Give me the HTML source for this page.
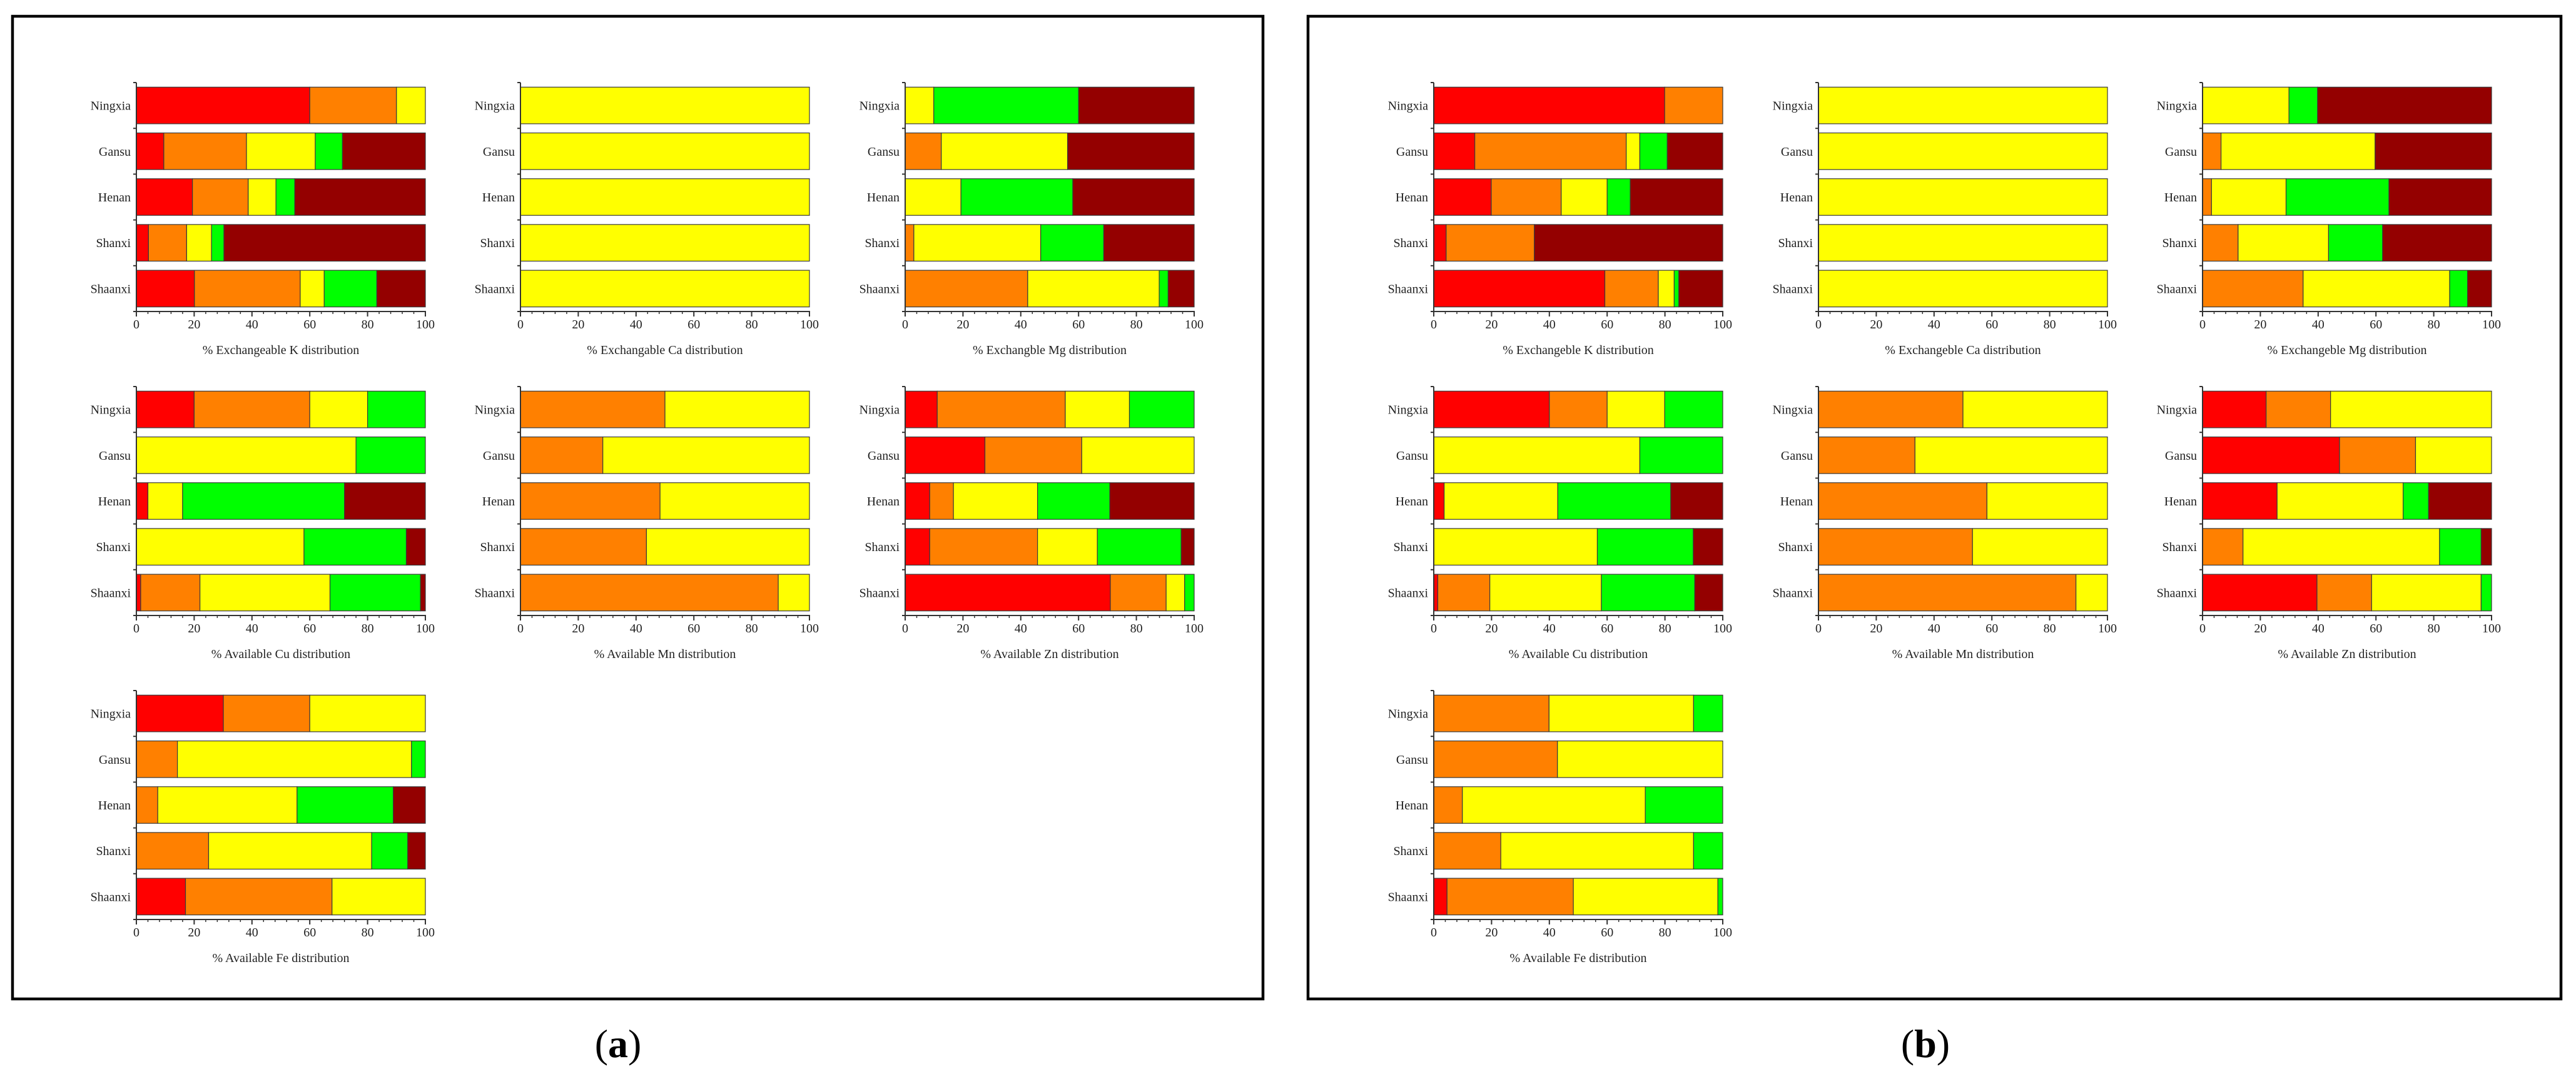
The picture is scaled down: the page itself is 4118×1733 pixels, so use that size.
<!DOCTYPE html>
<html><head><meta charset="utf-8">
<style>
html,body{margin:0;padding:0;background:#fff;}
svg{display:block;font-family:"Liberation Serif",serif;}
</style></head>
<body>
<svg id="fig" width="4118" height="1733" viewBox="0 0 4118 1733" xmlns="http://www.w3.org/2000/svg">
<rect x="0" y="0" width="4118" height="1733" fill="#fff"/>
<rect x="20" y="26" width="1999" height="1571" fill="none" stroke="#000" stroke-width="4.5"/>
<rect x="2091" y="26" width="2003" height="1571" fill="none" stroke="#000" stroke-width="4.5"/>
<text x="988" y="1690" font-size="64" text-anchor="middle" fill="#000">(<tspan font-weight="bold">a</tspan>)</text>
<text x="3078" y="1690" font-size="64" text-anchor="middle" fill="#000">(<tspan font-weight="bold">b</tspan>)</text>
<g id="charts"></g>
</svg>
<script>
// Categories and classes
const regions = ["Ningxia","Gansu","Henan","Shanxi","Shaanxi"];
const classColors = ["#ff0000","#ff8000","#ffff00","#00ff00","#940000"];
const tickValues = [0,20,40,60,80,100];
const tickLabels = ["0","20","40","60","80","100"];

// Segment values per region: [red, orange, yellow, green, darkred]
const aK  = [[60,30,10,0,0],[9.5,28.6,23.8,9.4,28.7],[19.4,19.3,9.6,6.5,45.2],[4.2,13.2,8.6,4.3,69.7],[20.1,36.6,8.3,18.2,16.8]];
const aCa = [[0,0,100,0,0],[0,0,100,0,0],[0,0,100,0,0],[0,0,100,0,0],[0,0,100,0,0]];
const aMg = [[0,0,9.9,50.1,40],[0,12.5,43.7,0,43.8],[0,0,19.3,38.7,42],[0,3,43.9,21.8,31.3],[0,42.4,45.5,3.1,9]];
const aCu = [[20,40,20,20,0],[0,0,76,24,0],[4,0,12,56,28],[0,0,58,35.4,6.6],[1.5,20.5,45,31.3,1.7]];
const aMn = [[0,50,50,0,0],[0,28.5,71.5,0,0],[0,48.3,51.7,0,0],[0,43.6,56.4,0,0],[0,89.2,10.8,0,0]];
const aZn = [[11.1,44.3,22.2,22.4,0],[27.6,33.5,38.9,0,0],[8.5,8.2,29.1,25,29.2],[8.5,37.3,20.7,29,4.5],[71,19.3,6.4,3.3,0]];
const aFe = [[30.1,29.9,40,0,0],[0,14.2,81,4.8,0],[0,7.4,48.2,33.3,11.1],[0,25,56.4,12.5,6.1],[17,50.7,32.3,0,0]];
const bK  = [[79.9,20.1,0,0,0],[14.2,52.4,4.7,9.5,19.2],[19.9,24.2,15.9,8,32],[4.3,30.5,0,0,65.2],[59.2,18.5,5.5,1.6,15.2]];
const bCa = [[0,0,100,0,0],[0,0,100,0,0],[0,0,100,0,0],[0,0,100,0,0],[0,0,100,0,0]];
const bMg = [[0,0,29.9,9.9,60.2],[0,6.4,53.3,0,40.3],[0,3.1,25.8,35.6,35.5],[0,12.3,31.3,18.7,37.7],[0,34.8,50.7,6.2,8.3]];
const bCu = [[40,20,19.9,20.1,0],[0,0,71.3,28.7,0],[3.6,0,39.3,39.1,18],[0,0,56.6,33.2,10.2],[1.4,18,38.6,32.3,9.7]];
const bMn = [[0,50,50,0,0],[0,33.4,66.6,0,0],[0,58.3,41.7,0,0],[0,53.3,46.7,0,0],[0,89.1,10.9,0,0]];
const bZn = [[22,22.3,55.7,0,0],[47.4,26.3,26.3,0,0],[25.8,0,43.6,8.8,21.8],[0,14,68,14.4,3.6],[39.6,18.9,37.9,3.6,0]];
const bFe = [[0,39.9,50,10.1,0],[0,42.8,57.2,0,0],[0,9.9,63.3,26.8,0],[0,23.2,66.7,10.1,0],[4.6,43.7,50,1.7,0]];

const titlesA = ["% Exchangeable K distribution","% Exchangable Ca distribution","% Exchangble Mg distribution","% Available Cu distribution","% Available Mn distribution","% Available Zn distribution","% Available Fe distribution"];
const titlesB = ["% Exchangeble K distribution","% Exchangeble Ca distribution","% Exchangeble Mg distribution","% Available Cu distribution","% Available Mn distribution","% Available Zn distribution","% Available Fe distribution"];

const NS = "http://www.w3.org/2000/svg";
const root = document.getElementById("charts");
function mk(tag, attrs, parent){
  const e = document.createElementNS(NS, tag);
  for (const k in attrs) e.setAttribute(k, attrs[k]);
  parent.appendChild(e);
  return e;
}

const colX0 = [[218,832,1447],[2292,2907,3521]];
const plotW = 462;
const rowAxisY = [498,984,1470];
const plotH = 366;

function drawChart(data, title, x0, axisY, name){
  const g = mk("g", {}, root);
  
  
  const xs = v => x0 + v / 100 * plotW;
  const band = plotH / regions.length;
  const top = axisY - plotH;
  const yb = i => top + i * band;
  // bars
  data.forEach((row, i) => {
    let acc = 0;
    const y = yb(i) + band * 0.1, h = band * 0.8;
    row.forEach((v, c) => {
      if (v <= 0) return;
      const r = mk("rect", {x: xs(acc), y: y, width: xs(acc + v) - xs(acc), height: h, fill: classColors[c], stroke: "#3a3a3a", "stroke-width": 1.2}, g);
      
      
      acc += v;
    });
    const t = mk("text", {x: x0 - 9, y: y + h / 2 + 7, "font-size": 20, "text-anchor": "end", fill: "#222"}, g);
    
    
    t.textContent = regions[i];
  });
  // y axis
  const ya = mk("line", {x1: x0, y1: top, x2: x0, y2: axisY, stroke: "#333", "stroke-width": 2}, g);
  
  
  for (let i = 0; i <= regions.length; i++) {
    mk("line", {x1: x0 - 5, y1: yb(i), x2: x0, y2: yb(i), stroke: "#333", "stroke-width": 2}, g);
  }
  // x axis
  const xa = mk("line", {x1: x0 - 1, y1: axisY, x2: x0 + plotW + 1, y2: axisY, stroke: "#333", "stroke-width": 2}, g);
  
  
  for (let v = 0; v <= 100; v += 4) {
    mk("line", {x1: xs(v), y1: axisY, x2: xs(v), y2: axisY + 4, stroke: "#333", "stroke-width": 1.5}, g);
  }
  tickValues.forEach((v, k) => {
    mk("line", {x1: xs(v), y1: axisY, x2: xs(v), y2: axisY + 8, stroke: "#333", "stroke-width": 2}, g);
    const tl = mk("text", {x: xs(v), y: axisY + 27, "font-size": 20, "text-anchor": "middle", fill: "#222"}, g);
    
    
    tl.textContent = tickLabels[k];
  });
  const tt = mk("text", {x: x0 + plotW / 2, y: axisY + 68, "font-size": 20, "text-anchor": "middle", fill: "#222"}, g);
  
  
  tt.textContent = title;
}

const setA = [aK, aCa, aMg, aCu, aMn, aZn, aFe];
const setB = [bK, bCa, bMg, bCu, bMn, bZn, bFe];
const keys = ["k","ca","mg","cu","mn","zn","fe"];
[setA, setB].forEach((set, p) => {
  set.forEach((d, i) => {
    const r = Math.floor(i / 3), c = i % 3;
    drawChart(d, (p === 0 ? titlesA : titlesB)[i], colX0[p][c], rowAxisY[r], (p === 0 ? "panel-a-" : "panel-b-") + keys[i] + "-chart");
  });
});
</script>
</body></html>
